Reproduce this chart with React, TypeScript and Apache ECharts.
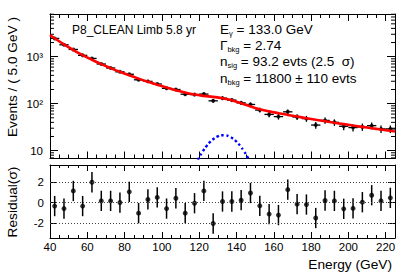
import React, { useEffect, useRef } from "react";
import * as echarts from "echarts";

const binCenters = [42.5, 47.5, 52.5, 57.5, 62.5, 67.5, 72.5, 77.5, 82.5, 87.5, 92.5, 97.5, 102.5, 107.5, 112.5, 117.5, 122.5, 127.5, 132.5, 137.5, 142.5, 147.5, 152.5, 157.5, 162.5, 167.5, 172.5, 177.5, 182.5, 187.5, 192.5, 197.5, 202.5, 207.5, 212.5, 217.5, 222.5];
const counts = [2450, 1793, 1425, 1067, 917, 698, 575, 476, 422, 322, 298, 262, 212, 200, 159, 156, 160, 115, 131, 119, 104, 96, 73, 59, 53, 67, 52, 48, 35, 44, 40, 33, 31, 32, 34, 29, 29];
const residuals = [-0.35, -0.6, 1.14, -0.35, 2.0, 0.16, 0.16, 0.0, 1.05, -1.05, 0.3, 0.5, -0.6, 0.42, -1.05, -0.07, 1.14, -2.07, 0.1, 0.1, 0.23, 0.94, -0.33, -1.14, -1.24, 1.27, -0.16, -0.2, -1.53, 0.2, 0.16, -0.62, -0.58, 0.03, 0.72, 0.16, 0.46];
const pullError = 1;
const binHalfWidth = 2.5;

const modelEnergy = [40, 42.5, 47.5, 52.5, 57.5, 62.5, 67.5, 72.5, 77.5, 82.5, 87.5, 92.5, 97.5, 102.5, 107.5, 112.5, 117.5, 122.5, 127.5, 132.5, 137.5, 142.5, 147.5, 152.5, 157.5, 162.5, 167.5, 172.5, 177.5, 182.5, 187.5, 192.5, 197.5, 202.5, 207.5, 212.5, 217.5, 222.5, 225];
const modelValues = [2900, 2467, 1819, 1383, 1078, 858, 694, 571, 476, 401, 341, 293, 254, 221, 194, 172, 156.5, 146.5, 139.5, 130.3, 117.7, 101.9, 87.1, 76.3, 68.5, 62.6, 57.6, 53.1, 49.1, 45.5, 42.3, 39.3, 36.7, 34.2, 32.0, 30.0, 28.1, 26.4, 25.6];

const signalEnergy = [114, 116, 118, 120, 122, 124, 126, 128, 130, 132, 134, 136, 138, 140, 142, 144, 146, 148, 150, 152];
const signalValues = [2.07, 3.3, 4.98, 7.2, 9.76, 12.6, 15.5, 18.1, 20.1, 21.2, 21.2, 20.1, 18.1, 15.5, 12.6, 9.76, 7.2, 4.98, 3.3, 2.07];

const xMinorTicks = [45, 50, 55, 65, 70, 75, 85, 90, 95, 105, 110, 115, 125, 130, 135, 145, 150, 155, 165, 170, 175, 185, 190, 195, 205, 210, 215];
const yMinorTicks = [7, 8, 9, 20, 30, 40, 50, 60, 70, 80, 90, 200, 300, 400, 500, 600, 700, 800, 900, 2000, 3000, 4000, 5000, 6000, 7000, 8000];
const residualTicks = [-2, 0, 2];

const FONT = "'Liberation Sans', Arial, Helvetica, sans-serif";
const X_MIN = 40;
const X_MAX = 225;

function logLabel(v: number): string {
  const p = Math.log10(v);
  const r = Math.round(p);
  if (Math.abs(p - r) > 1e-6) return "";
  if (r === 1) return "10";
  if (r === 2) return "10²";
  if (r === 3) return "10³";
  return "";
}

export default function App() {
  const ref = useRef<HTMLDivElement>(null);
  useEffect(() => {
    if (!ref.current) return;
    const chart = echarts.init(ref.current, null, { renderer: "svg" });
    const line = { show: true, onZero: false, lineStyle: { color: "#000", width: 1 } };
    const noLine = { show: false, onZero: false };
    const xAxisBase = (gi: number, pos: string) => ({
      type: "value", gridIndex: gi, position: pos, min: X_MIN, max: X_MAX,
      splitLine: { show: false },
    });
    const xMajor = (gi: number, pos: string, len: number, labels: boolean) => ({
      ...xAxisBase(gi, pos), interval: 20,
      axisLine: line,
      axisTick: { show: true, inside: true, length: len, lineStyle: { color: "#000", width: 1 } },
      axisLabel: labels
        ? { show: true, fontFamily: FONT, fontSize: 11.5, color: "#000", margin: 3,
            formatter: (v: number) => (v % 20 === 0 ? String(v) : "") }
        : { show: false },
    });
    const xMinor = (gi: number, pos: string, len: number) => ({
      ...xAxisBase(gi, pos),
      axisLine: noLine,
      axisTick: { show: true, inside: true, length: len, customValues: xMinorTicks, lineStyle: { color: "#000", width: 1 } },
      axisLabel: { show: false },
    });
    const logY = (pos: string, labels: boolean) => ({
      type: "log", gridIndex: 0, position: pos, min: 6.8, max: 8100, logBase: 10,
      axisLine: line,
      splitLine: { show: false },
      axisTick: { show: true, inside: true, length: 8, lineStyle: { color: "#000", width: 1 } },
      axisLabel: labels
        ? { show: true, fontFamily: FONT, fontSize: 11.5, color: "#000", margin: 7, formatter: logLabel, showMinLabel: false, showMaxLabel: false }
        : { show: false },
    });
    const resY = (pos: string, labels: boolean) => ({
      type: "value", gridIndex: 1, position: pos, min: -3.5, max: 3.7,
      axisLine: line,
      splitLine: { show: false },
      axisTick: { show: true, inside: true, length: 7, customValues: residualTicks, lineStyle: { color: "#000", width: 1 } },
      axisLabel: labels
        ? { show: true, fontFamily: FONT, fontSize: 11.5, color: "#000", margin: 6, customValues: residualTicks }
        : { show: false },
    });

    const rich = {
      m: { fontSize: 13.5, fontFamily: FONT, fill: "#000", lineHeight: 16 },
      s: { fontSize: 7.5, fontFamily: FONT, fill: "#000", verticalAlign: "bottom", lineHeight: 8 },
    };
    const infoLine = (y: number, text: string) => ({
      type: "text", x: 220, y,
      style: { text, rich, verticalAlign: "middle", align: "left" },
      silent: true,
    });

    const option: any = {
      animation: false,
      backgroundColor: "#fff",
      grid: [
        { left: 50, right: 4, top: 14, height: 144.5 },
        { left: 50, right: 4, top: 165, height: 73 },
      ],
      xAxis: [
        xMajor(0, "bottom", 7, false),
        xMinor(0, "bottom", 4),
        xMajor(0, "top", 7, false),
        xMinor(0, "top", 4),
        xMajor(1, "bottom", 6, true),
        xMinor(1, "bottom", 3),
        xMajor(1, "top", 6, false),
        xMinor(1, "top", 3),
      ],
      yAxis: [logY("left", true), logY("right", false), resY("left", true), resY("right", false)],
      series: [
        {
          type: "custom", xAxisIndex: 0, yAxisIndex: 0, silent: true,
          data: yMinorTicks.map((v) => [X_MIN, v]),
          encode: { x: 0, y: 1 },
          renderItem: (params: any, api: any) => {
            const v = api.value(1);
            const pl = api.coord([X_MIN, v]);
            const pr = api.coord([X_MAX, v]);
            return {
              type: "group",
              children: [
                { type: "line", shape: { x1: pl[0], y1: pl[1], x2: pl[0] + 4, y2: pl[1] }, style: { stroke: "#000", lineWidth: 1 } },
                { type: "line", shape: { x1: pr[0] - 4, y1: pr[1], x2: pr[0], y2: pr[1] }, style: { stroke: "#000", lineWidth: 1 } },
              ],
            };
          },
        },
        {
          type: "custom", xAxisIndex: 0, yAxisIndex: 0, silent: true, z: 3,
          data: binCenters.map((e, i) => [e, counts[i], Math.sqrt(counts[i])]),
          encode: { x: 0, y: 1 },
          renderItem: (params: any, api: any) => {
            const e = api.value(0), n = api.value(1), err = api.value(2);
            const lo = api.coord([e, n - err]);
            const hi = api.coord([e, n + err]);
            const l = api.coord([e - binHalfWidth, n]);
            const r = api.coord([e + binHalfWidth, n]);
            return {
              type: "group",
              children: [
                { type: "line", shape: { x1: lo[0], y1: lo[1], x2: hi[0], y2: hi[1] }, style: { stroke: "#000", lineWidth: 1.3 } },
                { type: "line", shape: { x1: l[0], y1: l[1], x2: r[0], y2: r[1] }, style: { stroke: "#000", lineWidth: 1.3 } },
              ],
            };
          },
        },
        {
          type: "scatter", xAxisIndex: 0, yAxisIndex: 0, silent: true, z: 4,
          symbol: "circle", symbolSize: 4,
          itemStyle: { color: "#000" },
          data: binCenters.map((e, i) => [e, counts[i]]),
        },
        {
          type: "line", xAxisIndex: 0, yAxisIndex: 0, silent: true, z: 5,
          showSymbol: false, smooth: true,
          lineStyle: { color: "#ff0000", width: 2.6 },
          data: modelEnergy.map((e, i) => [e, modelValues[i]]),
        },
        {
          type: "line", xAxisIndex: 0, yAxisIndex: 0, silent: true, z: 5,
          showSymbol: false, smooth: true,
          lineStyle: { color: "#0000ff", width: 2.4, type: [2.4, 2.6] },
          data: signalEnergy.map((e, i) => [e, signalValues[i]]),
        },
        {
          type: "custom", xAxisIndex: 4, yAxisIndex: 2, silent: true, z: 3,
          data: binCenters.map((e, i) => [e, residuals[i], pullError]),
          encode: { x: 0, y: 1 },
          renderItem: (params: any, api: any) => {
            const e = api.value(0), r = api.value(1), err = api.value(2);
            const lo = api.coord([e, r - err]);
            const hi = api.coord([e, r + err]);
            return {
              type: "line",
              shape: { x1: lo[0], y1: lo[1], x2: hi[0], y2: hi[1] },
              style: { stroke: "#000", lineWidth: 1.5 },
            };
          },
        },
        {
          type: "scatter", xAxisIndex: 4, yAxisIndex: 2, silent: true, z: 4,
          symbol: "circle", symbolSize: 5,
          itemStyle: { color: "#000" },
          data: binCenters.map((e, i) => [e, residuals[i]]),
          markLine: {
            silent: true, symbol: ["none", "none"], label: { show: false },
            lineStyle: { color: "#444", width: 1, type: [1, 2] },
            data: residualTicks.map((v) => ({ yAxis: v })),
          },
        },
      ],
      graphic: [
        { type: "text", x: 72, y: 29.5, silent: true,
          style: { text: "P8_CLEAN Limb 5.8 yr", fontFamily: FONT, fontSize: 12, fill: "#000", verticalAlign: "middle" } },
        infoLine(29.5, "{m|E}{s|γ}{m| = 133.0 GeV}"),
        infoLine(45.5, "{m|Γ}{s|bkg}{m| = 2.74}"),
        infoLine(61.5, "{m|n}{s|sig}{m| = 93.2 evts (2.5  σ)}"),
        infoLine(78, "{m|n}{s|bkg}{m| = 11800 ± 110 evts}"),
        { type: "text", x: 12, y: 77, rotation: Math.PI / 2, silent: true,
          style: { text: "Events / ( 5.0 GeV )", fontFamily: FONT, fontSize: 13.7, fill: "#000", align: "center", verticalAlign: "middle" } },
        { type: "text", x: 12, y: 202, rotation: Math.PI / 2, silent: true,
          style: { text: "Residual(σ)", fontFamily: FONT, fontSize: 13.7, fill: "#000", align: "center", verticalAlign: "middle" } },
        { type: "text", x: 392, y: 264, silent: true,
          style: { text: "Energy (GeV)", fontFamily: FONT, fontSize: 13.7, fill: "#000", align: "right", verticalAlign: "middle" } },
      ],
    };
    chart.setOption(option);
    return () => chart.dispose();
  }, []);
  return (
    <div
      ref={ref}
      style={{ position: "fixed", left: 0, top: 0, width: 399, height: 274, background: "#fff" }}
    />
  );
}
